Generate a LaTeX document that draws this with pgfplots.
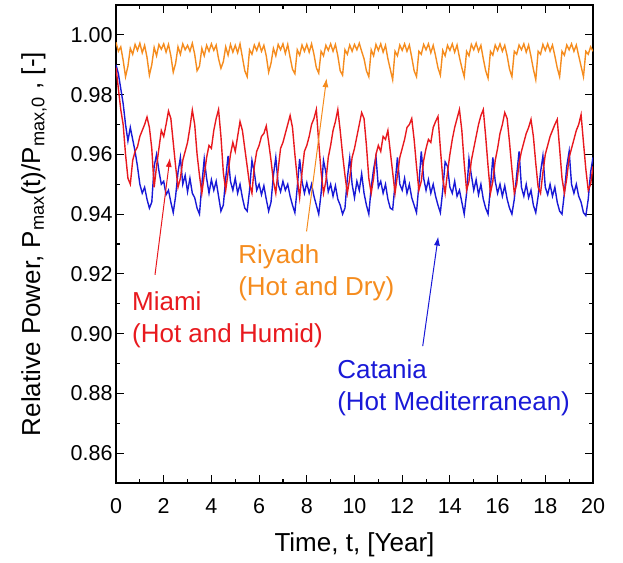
\documentclass[border=0pt]{standalone}
\usepackage{fontspec}
\setmainfont{Liberation Sans}
\usepackage{pgfplots}
\pgfplotsset{compat=1.18}
\usepackage{pgfplotstable}
\usetikzlibrary{arrows.meta}
\definecolor{cOrange}{RGB}{245,140,30}
\definecolor{cRed}{RGB}{232,25,30}
\definecolor{cBlue}{RGB}{25,25,215}

\pgfplotstableread{
t R M C
0.0 0.9975 0.9890 0.9900
0.1 0.9945 0.9820 0.9870
0.2 0.9960 0.9750 0.9820
0.3 0.9915 0.9700 0.9770
0.4 0.9860 0.9600 0.9700
0.5 0.9895 0.9520 0.9645
0.6 0.9955 0.9500 0.9690
0.7 0.9935 0.9580 0.9650
0.8 0.9968 0.9610 0.9610
0.9 0.9948 0.9625 0.9560
1.0 0.9972 0.9660 0.9500
1.1 0.9940 0.9680 0.9470
1.2 0.9965 0.9700 0.9490
1.3 0.9925 0.9725 0.9450
1.4 0.9865 0.9690 0.9420
1.5 0.9900 0.9620 0.9440
1.6 0.9958 0.9490 0.9560
1.7 0.9930 0.9560 0.9600
1.8 0.9968 0.9620 0.9545
1.9 0.9952 0.9680 0.9500
2.0 0.9970 0.9660 0.9510
2.1 0.9942 0.9700 0.9465
2.2 0.9968 0.9745 0.9480
2.3 0.9930 0.9720 0.9440
2.4 0.9875 0.9640 0.9405
2.5 0.9905 0.9560 0.9460
2.6 0.9960 0.9490 0.9540
2.7 0.9935 0.9520 0.9590
2.8 0.9970 0.9580 0.9500
2.9 0.9950 0.9610 0.9530
3.0 0.9965 0.9640 0.9475
3.1 0.9945 0.9690 0.9520
3.2 0.9972 0.9748 0.9470
3.3 0.9935 0.9700 0.9455
3.4 0.9880 0.9600 0.9420
3.5 0.9895 0.9530 0.9400
3.6 0.9955 0.9470 0.9500
3.7 0.9930 0.9530 0.9585
3.8 0.9965 0.9590 0.9520
3.9 0.9945 0.9630 0.9470
4.0 0.9970 0.9620 0.9515
4.1 0.9948 0.9680 0.9480
4.2 0.9966 0.9720 0.9510
4.3 0.9920 0.9750 0.9460
4.4 0.9888 0.9660 0.9410
4.5 0.9910 0.9540 0.9430
4.6 0.9960 0.9480 0.9520
4.7 0.9932 0.9540 0.9595
4.8 0.9968 0.9600 0.9510
4.9 0.9942 0.9640 0.9480
5.0 0.9965 0.9610 0.9520
5.1 0.9940 0.9660 0.9470
5.2 0.9970 0.9710 0.9500
5.3 0.9925 0.9680 0.9455
5.4 0.9880 0.9620 0.9420
5.5 0.9860 0.9560 0.9410
5.6 0.9950 0.9500 0.9480
5.7 0.9935 0.9470 0.9580
5.8 0.9966 0.9560 0.9540
5.9 0.9948 0.9610 0.9480
6.0 0.9972 0.9630 0.9500
6.1 0.9945 0.9660 0.9465
6.2 0.9965 0.9670 0.9495
6.3 0.9930 0.9695 0.9450
6.4 0.9875 0.9640 0.9410
6.5 0.9905 0.9580 0.9440
6.6 0.9955 0.9510 0.9530
6.7 0.9930 0.9470 0.9590
6.8 0.9968 0.9550 0.9500
6.9 0.9950 0.9620 0.9475
7.0 0.9970 0.9640 0.9510
7.1 0.9938 0.9670 0.9480
7.2 0.9968 0.9700 0.9500
7.3 0.9925 0.9730 0.9460
7.4 0.9885 0.9690 0.9430
7.5 0.9870 0.9600 0.9405
7.6 0.9950 0.9520 0.9490
7.7 0.9932 0.9455 0.9585
7.8 0.9966 0.9540 0.9510
7.9 0.9945 0.9610 0.9470
8.0 0.9968 0.9630 0.9505
8.1 0.9942 0.9660 0.9470
8.2 0.9970 0.9700 0.9500
8.3 0.9935 0.9720 0.9460
8.4 0.9890 0.9750 0.9430
8.5 0.9872 0.9640 0.9400
8.6 0.9945 0.9540 0.9470
8.7 0.9930 0.9470 0.9580
8.8 0.9965 0.9510 0.9540
8.9 0.9948 0.9590 0.9475
9.0 0.9970 0.9630 0.9500
9.1 0.9945 0.9680 0.9460
9.2 0.9968 0.9710 0.9495
9.3 0.9930 0.9750 0.9450
9.4 0.9880 0.9680 0.9430
9.5 0.9865 0.9600 0.9400
9.6 0.9950 0.9530 0.9420
9.7 0.9935 0.9470 0.9520
9.8 0.9966 0.9520 0.9588
9.9 0.9945 0.9590 0.9500
10.0 0.9968 0.9620 0.9455
10.1 0.9950 0.9660 0.9510
10.2 0.9972 0.9700 0.9480
10.3 0.9945 0.9740 0.9535
10.4 0.9920 0.9720 0.9470
10.5 0.9880 0.9630 0.9430
10.6 0.9860 0.9520 0.9400
10.7 0.9950 0.9470 0.9490
10.8 0.9930 0.9520 0.9550
10.9 0.9968 0.9600 0.9593
11.0 0.9948 0.9630 0.9490
11.1 0.9970 0.9610 0.9510
11.2 0.9942 0.9660 0.9470
11.3 0.9965 0.9650 0.9500
11.4 0.9920 0.9680 0.9450
11.5 0.9885 0.9610 0.9420
11.6 0.9850 0.9540 0.9415
11.7 0.9945 0.9470 0.9500
11.8 0.9930 0.9530 0.9590
11.9 0.9966 0.9590 0.9500
12.0 0.9948 0.9620 0.9480
12.1 0.9970 0.9650 0.9520
12.2 0.9945 0.9690 0.9470
12.3 0.9966 0.9700 0.9500
12.4 0.9925 0.9720 0.9455
12.5 0.9880 0.9650 0.9430
12.6 0.9860 0.9560 0.9405
12.7 0.9945 0.9480 0.9500
12.8 0.9935 0.9510 0.9610
12.9 0.9968 0.9580 0.9520
13.0 0.9950 0.9620 0.9480
13.1 0.9970 0.9650 0.9515
13.2 0.9940 0.9640 0.9470
13.3 0.9965 0.9690 0.9500
13.4 0.9930 0.9710 0.9460
13.5 0.9890 0.9727 0.9430
13.6 0.9865 0.9620 0.9405
13.7 0.9948 0.9520 0.9480
13.8 0.9930 0.9470 0.9575
13.9 0.9965 0.9540 0.9560
14.0 0.9948 0.9600 0.9490
14.1 0.9970 0.9650 0.9470
14.2 0.9942 0.9690 0.9510
14.3 0.9966 0.9720 0.9460
14.4 0.9925 0.9750 0.9480
14.5 0.9890 0.9680 0.9440
14.6 0.9860 0.9570 0.9400
14.7 0.9945 0.9480 0.9470
14.8 0.9930 0.9510 0.9585
14.9 0.9968 0.9580 0.9530
15.0 0.9950 0.9620 0.9480
15.1 0.9972 0.9660 0.9515
15.2 0.9945 0.9700 0.9465
15.3 0.9965 0.9730 0.9500
15.4 0.9920 0.9750 0.9450
15.5 0.9880 0.9660 0.9420
15.6 0.9855 0.9560 0.9400
15.7 0.9945 0.9470 0.9490
15.8 0.9932 0.9510 0.9590
15.9 0.9966 0.9580 0.9510
16.0 0.9948 0.9620 0.9470
16.1 0.9970 0.9670 0.9500
16.2 0.9945 0.9700 0.9460
16.3 0.9965 0.9740 0.9495
16.4 0.9930 0.9720 0.9450
16.5 0.9885 0.9640 0.9420
16.6 0.9860 0.9550 0.9400
16.7 0.9945 0.9470 0.9450
16.8 0.9935 0.9500 0.9530
16.9 0.9966 0.9570 0.9610
17.0 0.9950 0.9610 0.9490
17.1 0.9970 0.9640 0.9460
17.2 0.9942 0.9670 0.9500
17.3 0.9966 0.9690 0.9455
17.4 0.9928 0.9717 0.9480
17.5 0.9885 0.9660 0.9430
17.6 0.9850 0.9570 0.9405
17.7 0.9945 0.9490 0.9460
17.8 0.9935 0.9470 0.9540
17.9 0.9968 0.9540 0.9595
18.0 0.9948 0.9600 0.9490
18.1 0.9970 0.9630 0.9465
18.2 0.9945 0.9660 0.9500
18.3 0.9966 0.9680 0.9460
18.4 0.9930 0.9700 0.9490
18.5 0.9890 0.9717 0.9440
18.6 0.9860 0.9620 0.9410
18.7 0.9945 0.9520 0.9400
18.8 0.9932 0.9470 0.9470
18.9 0.9966 0.9520 0.9560
19.0 0.9950 0.9590 0.9610
19.1 0.9970 0.9620 0.9500
19.2 0.9945 0.9650 0.9470
19.3 0.9966 0.9680 0.9500
19.4 0.9930 0.9700 0.9460
19.5 0.9895 0.9733 0.9440
19.6 0.9860 0.9640 0.9405
19.7 0.9945 0.9550 0.9395
19.8 0.9935 0.9480 0.9450
19.9 0.9960 0.9500 0.9540
20.0 0.9945 0.9560 0.9590
}\data

\begin{document}
\begin{tikzpicture}
\begin{axis}[
  name=ax,
  scale only axis,
  width=477pt, height=478pt,
  xmin=0, xmax=20, ymin=0.85, ymax=1.01,
  xtick={0,2,4,6,8,10,12,14,16,18,20},
  ytick={0.86,0.88,0.90,0.92,0.94,0.96,0.98,1.00},
  minor x tick num=1, minor y tick num=1,
  tick align=inside,
  major tick length=8pt, minor tick length=4pt,
  axis line style={line width=1.3pt},
  every tick/.style={black, line width=1.1pt},
  /pgf/number format/assume math mode=true,
  tick label style={font=\fontsize{21.5}{24}\selectfont},
  x tick label style={yshift=-12pt},
  y tick label style={/pgf/number format/.cd, fixed, fixed zerofill, precision=2, /tikz/.cd},
  xlabel={Time, t, [Year]},
  ylabel={Relative Power, P\textsubscript{max}(t)/P\textsubscript{max,0} , [-]},
  label style={font=\fontsize{26}{30}\selectfont},
  xlabel style={at={(axis description cs:0.5,-0.13)}, anchor=center},
  ylabel style={at={(axis description cs:-0.172,0.5)}, anchor=center},
]
\addplot[cBlue, line width=1.4pt] table[x=t, y=C] {\data};
\addplot[cRed, line width=1.4pt] table[x=t, y=M] {\data};
\addplot[cOrange, line width=1.4pt] table[x=t, y=R] {\data};

\draw[cRed, line width=1pt, -{Latex[length=9pt,width=6pt]}] (axis cs:1.635,0.9197) -- (axis cs:2.26,0.9588);
\draw[cOrange, line width=1pt, -{Latex[length=9pt,width=6pt]}] (axis cs:7.99,0.9342) -- (axis cs:8.83,0.9855);
\draw[cBlue, line width=1pt, -{Latex[length=9pt,width=6pt]}] (axis cs:12.86,0.8958) -- (axis cs:13.51,0.9325);

\node[anchor=north west, inner sep=0pt, align=left, text=cOrange, font=\fontsize{26}{32}\selectfont] at (axis cs:5.12,0.9298) {Riyadh\\(Hot and Dry)};
\node[anchor=north west, inner sep=0pt, align=left, text=cRed, font=\fontsize{26}{32}\selectfont] at (axis cs:0.67,0.9140) {Miami\\(Hot and Humid)};
\node[anchor=north west, inner sep=0pt, align=left, text=cBlue, font=\fontsize{26}{32}\selectfont] at (axis cs:9.27,0.8913) {Catania\\(Hot Mediterranean)};
\end{axis}
\path ([shift={(-116pt,-79pt)}]ax.south west) rectangle ([shift={(30pt,5pt)}]ax.north east);
\end{tikzpicture}
\end{document}
